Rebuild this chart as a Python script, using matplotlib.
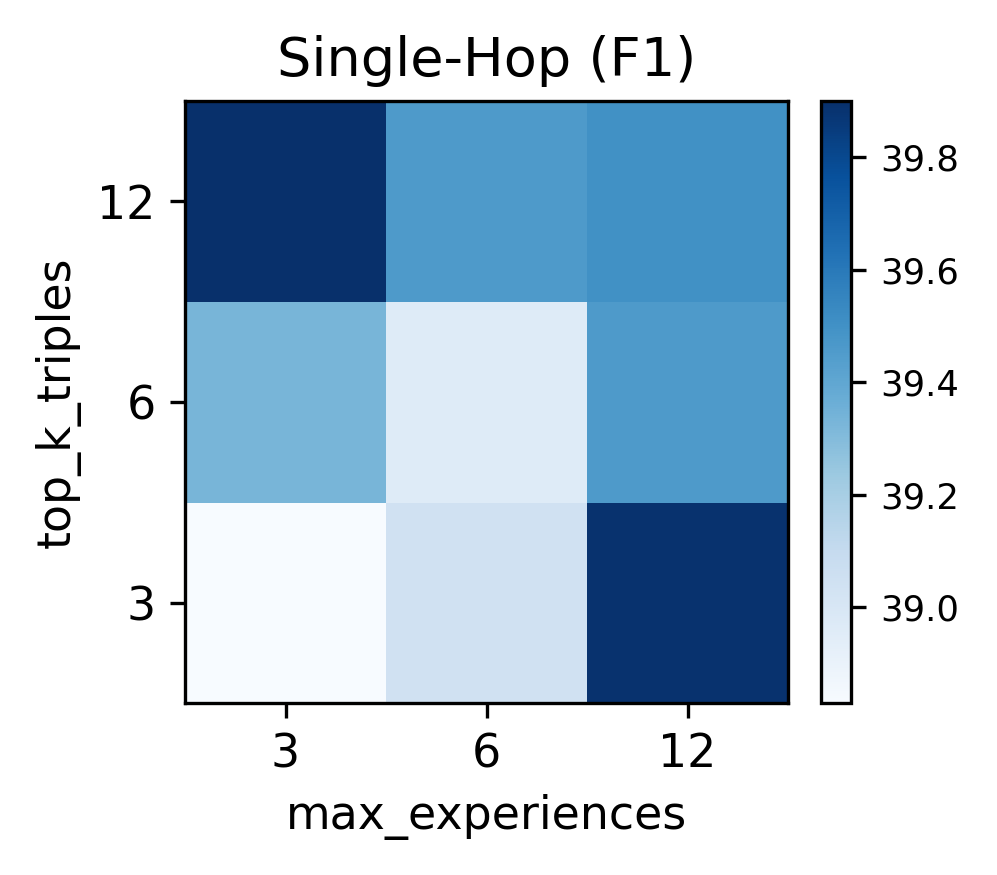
import numpy as np
import matplotlib
matplotlib.use('Agg')
import matplotlib.pyplot as plt

max_experiences = ['3', '6', '12']
top_k_triples = ['3', '6', '12']
# rows: top_k_triples = 3, 6, 12 ; cols: max_experiences = 3, 6, 12
f1 = np.array([
    [38.83, 39.04, 39.89],
    [39.33, 38.96, 39.46],
    [39.90, 39.46, 39.50],
])

fig = plt.figure(figsize=(997/300, 875/300), dpi=300)
ax = fig.add_axes([185/997, 1-703/875, 603/997, 602/875])
cax = fig.add_axes([821/997, 1-703/875, 30/997, 602/875])

im = ax.imshow(f1, cmap='Blues', origin='lower', aspect='auto')
ax.set_xticks(range(len(max_experiences)))
ax.set_xticklabels(max_experiences, fontsize=11)
ax.set_yticks(range(len(top_k_triples)))
ax.set_yticklabels(top_k_triples, fontsize=11)
ax.set_xlabel('max_experiences', fontsize=11)
ax.set_ylabel('top_k_triples', fontsize=11)
ax.set_title('Single-Hop (F1)', fontsize=13)

cb = fig.colorbar(im, cax=cax)
cb.set_ticks([39.0, 39.2, 39.4, 39.6, 39.8])
cb.ax.tick_params(labelsize=8.5)

fig.savefig('out.png', dpi=300)
